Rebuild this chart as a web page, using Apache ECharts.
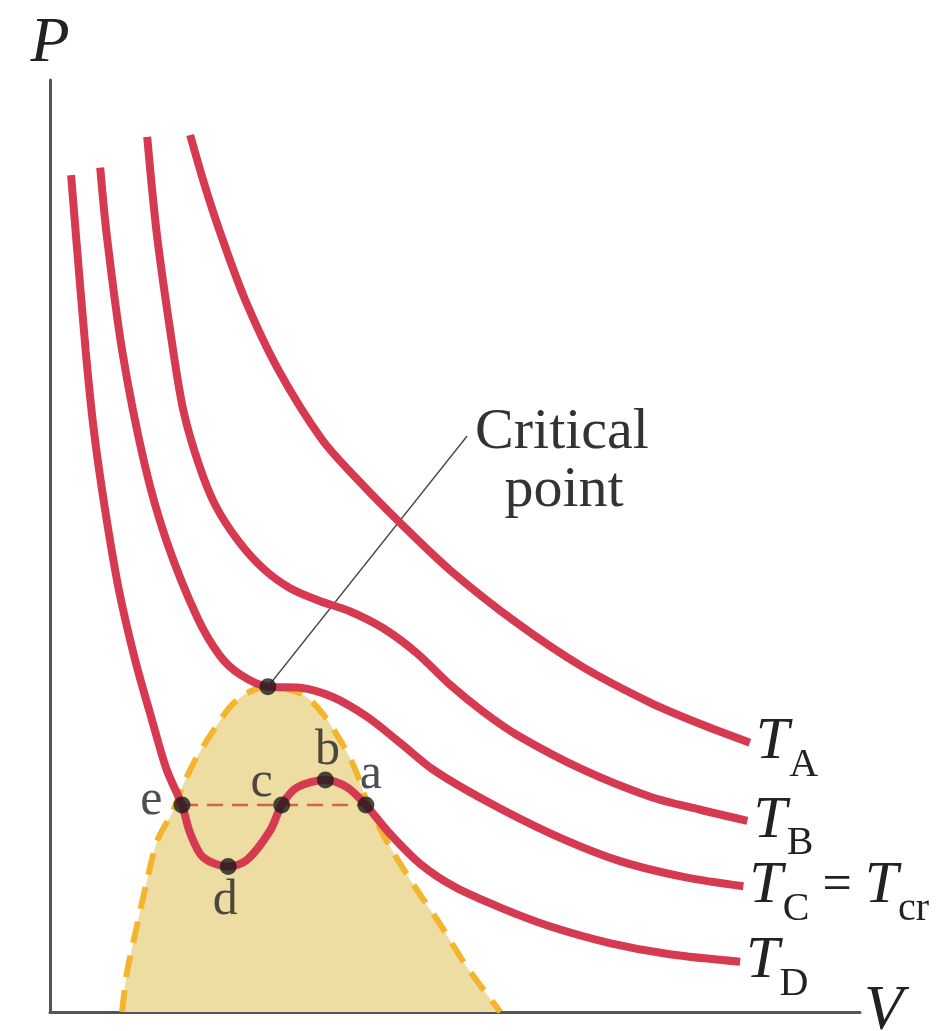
<!DOCTYPE html>
<html>
<head>
<meta charset="utf-8">
<title>P-V isotherms</title>
<script src="https://cdn.jsdelivr.net/npm/echarts@6/dist/echarts.min.js"></script>
<style>
  html, body { margin: 0; padding: 0; background: #fff; }
  #chart { width: 946px; height: 1031px; }
</style>
</head>
<body>
<div id="chart"></div>
<script>
// isotherms as [V, P] (arbitrary units 0..100)
const isoA = [[17.3, 94.1], [19.1, 88.7], [21.1, 83.4], [24.1, 76.4], [28.2, 68.9], [33.6, 61.4],
  [38.0, 57.1], [43.2, 52.5], [49.4, 47.4], [57.7, 41.7], [65.8, 37.0], [74.1, 33.2], [80.3, 30.9],
  [86.4, 28.9]];
const isoB = [[12.0, 93.9], [13.2, 83.4], [15.2, 71.0], [16.5, 64.4], [18.4, 58.7], [20.4, 54.4],
  [23.2, 50.6], [26.3, 47.6], [29.6, 45.5], [33.3, 44.1], [37.0, 43.0], [41.1, 41.2], [45.3, 38.5],
  [49.4, 35.1], [53.5, 32.2], [57.7, 29.7], [65.8, 26.0], [74.1, 23.1], [80.3, 21.7], [86.1, 20.5]];
const isoC = [[6.2, 90.6], [7.0, 83.4], [8.9, 71.0], [11.7, 58.7], [14.4, 50.5], [18.2, 42.3],
  [21.0, 38.2], [23.5, 36.2], [26.9, 34.9], [30.9, 34.8], [34.9, 33.8], [39.1, 31.7], [43.2, 28.9],
  [47.3, 26.0], [53.5, 22.8], [61.7, 19.2], [70.0, 16.3], [78.2, 14.5], [85.6, 13.5]];
const isoD = [[2.6, 89.8], [3.2, 83.4], [4.4, 71.0], [5.4, 62.5], [6.8, 53.9], [8.5, 45.3],
  [10.5, 37.8], [12.6, 31.3], [14.4, 26.0], [16.3, 22.2], [17.3, 19.2], [18.9, 16.6], [22.0, 15.6],
  [24.3, 16.3], [27.2, 19.5], [28.6, 22.2], [30.5, 24.1], [34.0, 24.9], [36.7, 24.1], [39.0, 22.2],
  [42.0, 19.1], [45.7, 15.9], [50.0, 13.4], [55.6, 11.2], [61.7, 9.2], [69.1, 7.4], [76.5, 6.2],
  [85.2, 5.4]];

// saturation dome outline
const dome = [[8.9, 0], [9.5, 4.2], [10.7, 9.1], [12.0, 14.2], [13.3, 18.5], [15.1, 21.4],
  [16.3, 24.1], [17.9, 27.0], [19.8, 29.7], [22.2, 32.7], [24.3, 34.2], [26.8, 34.9], [30.9, 34.2],
  [33.3, 32.4], [35.8, 29.2], [37.7, 26.0], [39.3, 22.2], [42.0, 17.7], [45.3, 13.1], [47.8, 9.9],
  [51.5, 4.8], [55.6, 0]];

// marked states on T_D and the critical point
const stateNames = ['e', 'd', 'c', 'b', 'a'];
const statePts = [[16.3, 22.2], [22.0, 15.6], [28.6, 22.2], [34.0, 24.9], [39.0, 22.2]];
const criticalPt = [26.9, 34.9];
const leaderEnd = [51.5, 61.8];

const isoNames = ['{t|T}{s|A}', '{t|T}{s|B}', '{t|T}{s|C}{q| = }{t|T}{s|cr}', '{t|T}{s|D}'];

const RED = '#d63a50';
const serif = '"Liberation Serif", "DejaVu Serif", serif';

const chart = echarts.init(document.getElementById('chart'));

const labelRich = {
  t: { fontFamily: serif, fontStyle: 'italic', fontSize: 60, lineHeight: 60, color: '#222' },
  s: { fontFamily: serif, fontSize: 40, lineHeight: 40, padding: [46, 0, 0, 0], color: '#222' },
  q: { fontFamily: serif, fontSize: 52, lineHeight: 52, color: '#222' }
};

function isoSeries(data, i) {
  return {
    type: 'line',
    data: data,
    smooth: 0.3,
    symbol: 'none',
    z: 3,
    lineStyle: { color: RED, width: 8 },
    endLabel: {
      show: true,
      distance: 6,
      formatter: isoNames[i],
      rich: labelRich
    },
    silent: true
  };
}

const positions = ['left', 'bottom', 'top', 'top', 'top'];
const offsets = [[-7, -4], [-3, -3], [-20, 15], [2, 8], [5, 7]];

const options = {
  animation: false,
  grid: { left: 50, top: 80, width: 810, height: 932, outerBoundsMode: 'none', containLabel: false },
  xAxis: {
    type: 'value', min: 0, max: 100,
    name: 'V', nameLocation: 'end', nameGap: 4,
    nameTextStyle: { fontFamily: serif, fontStyle: 'italic', fontSize: 64, color: '#222' },
    axisLine: { lineStyle: { color: '#555', width: 3 } },
    axisTick: { show: false }, axisLabel: { show: false }, splitLine: { show: false }
  },
  yAxis: {
    type: 'value', min: 0, max: 100,
    name: 'P', nameLocation: 'end', nameGap: 4,
    nameTextStyle: { fontFamily: serif, fontStyle: 'italic', fontSize: 64, color: '#222' },
    axisLine: { lineStyle: { color: '#555', width: 3 } },
    axisTick: { show: false }, axisLabel: { show: false }, splitLine: { show: false }
  },
  series: [
    {
      type: 'line',
      data: dome,
      smooth: 0.3,
      symbol: 'none',
      z: 1,
      lineStyle: { color: '#f4b52e', width: 6, type: [22, 13] },
      areaStyle: { color: '#eedda3', opacity: 1 },
      silent: true
    },
    {
      type: 'line',
      data: [statePts[0], statePts[4]],
      symbol: 'none',
      z: 2,
      lineStyle: { color: '#d8604e', width: 2.5, type: [16, 9] },
      silent: true
    },
    {
      type: 'line',
      data: [criticalPt, leaderEnd],
      symbol: 'none',
      z: 2,
      lineStyle: { color: '#444', width: 1.3 },
      silent: true
    },
    isoSeries(isoA, 0),
    isoSeries(isoB, 1),
    isoSeries(isoC, 2),
    isoSeries(isoD, 3),
    {
      type: 'scatter',
      z: 5,
      symbolSize: 17,
      itemStyle: { color: '#1c1c1c' },
      data: statePts.map((p, i) => ({
        value: p,
        name: stateNames[i],
        label: {
          show: true,
          position: positions[i],
          offset: offsets[i],
          distance: 4,
          formatter: stateNames[i],
          fontFamily: serif,
          fontSize: 50,
          color: '#222'
        }
      })).concat([{ value: criticalPt }]),
      silent: true
    }
  ],
  graphic: [
    {
      type: 'text',
      x: 562, y: 433,
      style: {
        text: 'Critical', fontFamily: serif, fontSize: 58,
        textAlign: 'center', textVerticalAlign: 'middle', fill: '#333'
      }
    },
    {
      type: 'text',
      x: 564, y: 491,
      style: {
        text: 'point', fontFamily: serif, fontSize: 58,
        textAlign: 'center', textVerticalAlign: 'middle', fill: '#333'
      }
    }
  ]
};

chart.setOption(options);
</script>
</body>
</html>
